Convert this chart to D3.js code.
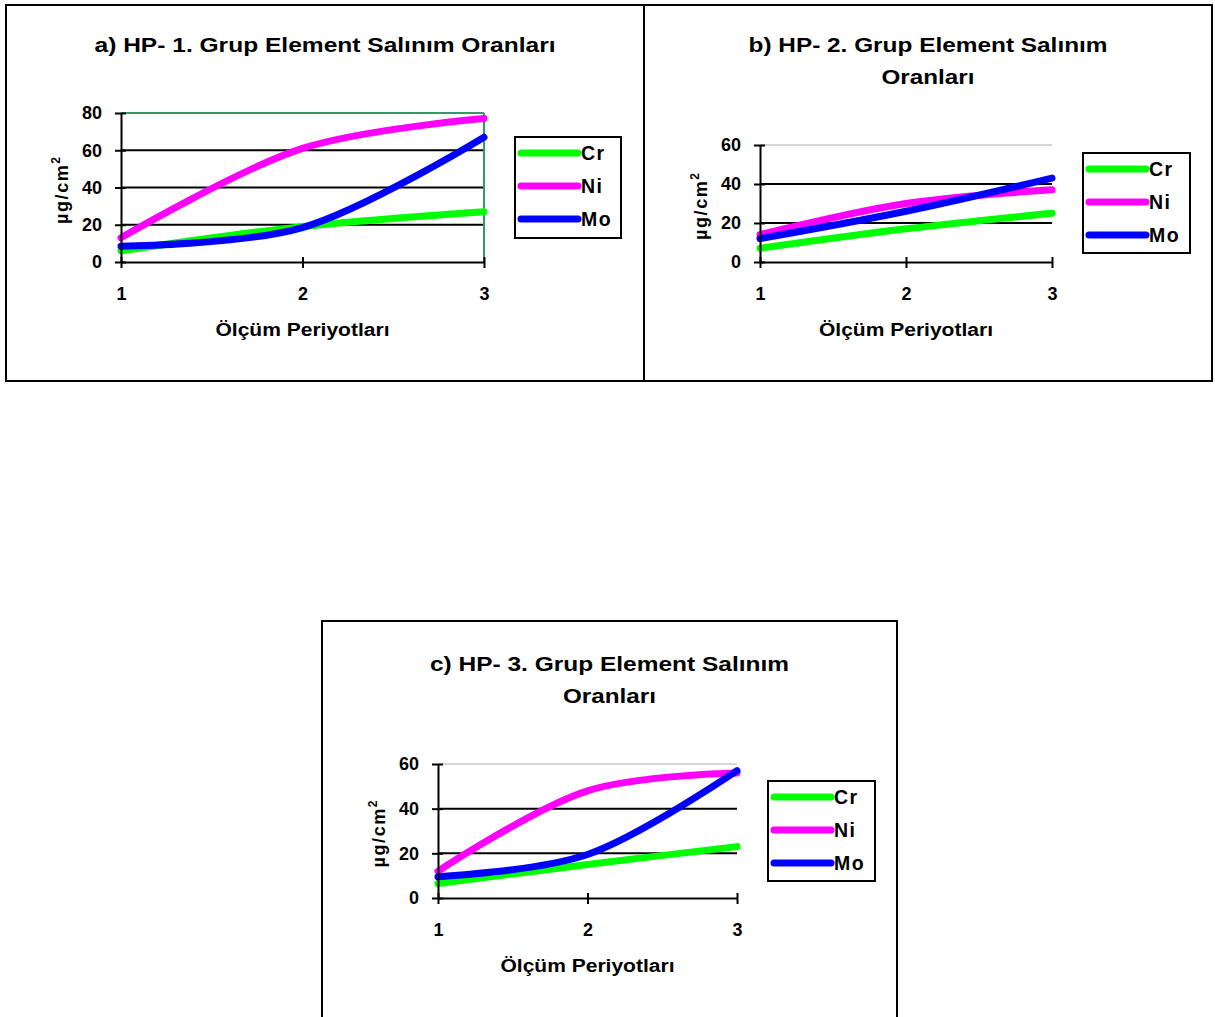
<!DOCTYPE html>
<html><head><meta charset="utf-8">
<script src="https://cdn.jsdelivr.net/npm/d3@7"></script>
<style>
html,body{margin:0;padding:0;background:#fff;}
svg{display:block;font-family:"Liberation Sans",Arial,sans-serif;}
</style></head>
<body>
<svg id="chart" width="1215" height="1017"></svg>
<script>
// ---- data ----
const periods = [1, 2, 3];
const seriesNames = ["Cr", "Ni", "Mo"];
const seriesColors = ["#00ff00", "#ff00ff", "#0000ff"];

const crA = [6, 19, 27];
const niA = [13, 61, 77];
const moA = [8.5, 18.5, 67];

const crB = [7, 17, 25];
const niB = [14, 30, 37];
const moB = [12, 26, 43];

const crC = [6.5, 15, 23];
const niC = [12, 48, 56];
const moC = [9.5, 19.5, 57];

const yTicksA = [0, 20, 40, 60, 80];
const yTicksB = [0, 20, 40, 60];
const yTicksC = [0, 20, 40, 60];

const titleA = ["a) HP- 1. Grup Element Salınım Oranları"];
const titleB = ["b) HP- 2. Grup Element Salınım", "Oranları"];
const titleC = ["c) HP- 3. Grup Element Salınım", "Oranları"];
const xTitle = "Ölçüm Periyotları";

// ---- layout ----
const svg = d3.select("#chart");

const panels = [
  {box:[6,5,638,376], plot:[121,484,113,262], yTicks:yTicksA, series:[crA,niA,moA], title:titleA, titleW:[461], titleY:51,
   legend:[515,137,106,101], xTitleY:336, topStyle:"green"},
  {box:[644,5,568,376], plot:[760,1052,145,262], yTicks:yTicksB, series:[crB,niB,moB], title:titleB, titleW:[359,93], titleY:51,
   legend:[1083,153,107,100], xTitleY:336, topStyle:"grey"},
  {box:[322,621,575,420], plot:[438,737,764,898], yTicks:yTicksC, series:[crC,niC,moC], title:titleC, titleW:[359,93], titleY:670,
   legend:[768,781,107,100], xTitleY:972, topStyle:"grey"}
];

panels.forEach(p => {
  const g = svg.append("g");
  const [bx,by,bw,bh] = p.box;
  g.append("rect").attr("x",bx).attr("y",by).attr("width",bw).attr("height",bh)
    .attr("fill","#fff").attr("stroke","#000").attr("stroke-width",2);

  const [x0,x1,yT,yB] = p.plot;
  const x = d3.scaleLinear().domain([1,3]).range([x0,x1]);
  const yMax = d3.max(p.yTicks);
  const y = d3.scaleLinear().domain([0,yMax]).range([yB,yT]);

  // title
  const cx = bx + bw/2;
  p.title.forEach((t,i) => {
    g.append("text").attr("x",cx).attr("y",p.titleY + 1 + i*32)
      .attr("text-anchor","middle").attr("font-size",20.5).attr("font-weight","bold")
      .attr("textLength",p.titleW[i]).attr("lengthAdjust","spacingAndGlyphs").text(t);
  });

  // gridlines
  p.yTicks.forEach(v => {
    if (v === 0) return;
    const isTop = v === yMax;
    g.append("line").attr("x1",x0).attr("x2",x1).attr("y1",y(v)).attr("y2",y(v))
      .attr("stroke", isTop ? (p.topStyle==="green" ? "#339966" : "#c8c8c8") : "#000")
      .attr("stroke-width", isTop ? (p.topStyle==="green" ? 2 : 1.5) : 2);
  });
  if (p.topStyle === "green") {
    g.append("line").attr("x1",x1).attr("x2",x1).attr("y1",yT).attr("y2",yB)
      .attr("stroke","#339966").attr("stroke-width",2);
  }

  // series
  const line = d3.line().x((d,i)=>x(periods[i])).y(d=>y(d)).curve(d3.curveCatmullRom.alpha(0.5));
  p.series.forEach((s,k) => {
    g.append("path").datum(s).attr("d",line).attr("fill","none")
      .attr("stroke",seriesColors[k]).attr("stroke-width",7)
      .attr("stroke-linecap","round").attr("stroke-linejoin","round");
  });

  // axes
  const yAxis = d3.axisLeft(y).tickValues(p.yTicks).tickSize(6).tickSizeOuter(0).tickPadding(10);
  const ya = g.append("g").attr("transform",`translate(${x0},0)`).call(yAxis);
  ya.select(".domain").attr("stroke","#000").attr("stroke-width",2);
  ya.selectAll(".tick line").attr("stroke","#000").attr("stroke-width",2).attr("x1",5).attr("x2",-6);
  ya.selectAll(".tick text").attr("font-size",18).attr("font-weight","bold")
    .attr("font-family","Liberation Sans, Arial, sans-serif").attr("fill","#000").attr("x",-19);

  const xAxis = d3.axisBottom(x).tickValues(periods).tickFormat(d3.format("d")).tickSize(6).tickSizeOuter(0).tickPadding(10);
  const xa = g.append("g").attr("transform",`translate(0,${yB})`).call(xAxis);
  xa.select(".domain").attr("stroke","#000").attr("stroke-width",2);
  xa.selectAll(".tick line").attr("stroke","#000").attr("stroke-width",2).attr("y1",-5).attr("y2",6);
  xa.selectAll(".tick text").attr("font-size",18).attr("font-weight","bold")
    .attr("font-family","Liberation Sans, Arial, sans-serif").attr("fill","#000").attr("y",25);

  // axis titles
  g.append("text").attr("x",(x0+x1)/2).attr("y",p.xTitleY).attr("text-anchor","middle")
    .attr("font-size",18).attr("font-weight","bold")
    .attr("textLength",174).attr("lengthAdjust","spacingAndGlyphs").text(xTitle);

  const yl = g.append("text").attr("transform",`translate(${x0-53},${(yT+yB)/2 + 3}) rotate(-90)`)
    .attr("text-anchor","middle").attr("font-size",18).attr("font-weight","bold");
  yl.append("tspan").attr("letter-spacing","1.6px").text("µg/cm");
  yl.append("tspan").attr("font-size",12).attr("dy",-8).text("2");

  // legend
  const [lx,ly,lw,lh] = p.legend;
  g.append("rect").attr("x",lx).attr("y",ly).attr("width",lw).attr("height",lh)
    .attr("fill","#fff").attr("stroke","#000").attr("stroke-width",2);
  seriesNames.forEach((name,k) => {
    const yy = ly + 16 + k*33;
    g.append("line").attr("x1",lx+6).attr("x2",lx+63).attr("y1",yy).attr("y2",yy)
      .attr("stroke",seriesColors[k]).attr("stroke-width",7).attr("stroke-linecap","round");
    g.append("text").attr("x",lx+66).attr("y",yy).attr("dy","0.37em")
      .attr("font-size",19.5).attr("font-weight","bold").attr("letter-spacing","1.5px").text(name);
  });
});
</script>
</body></html>
